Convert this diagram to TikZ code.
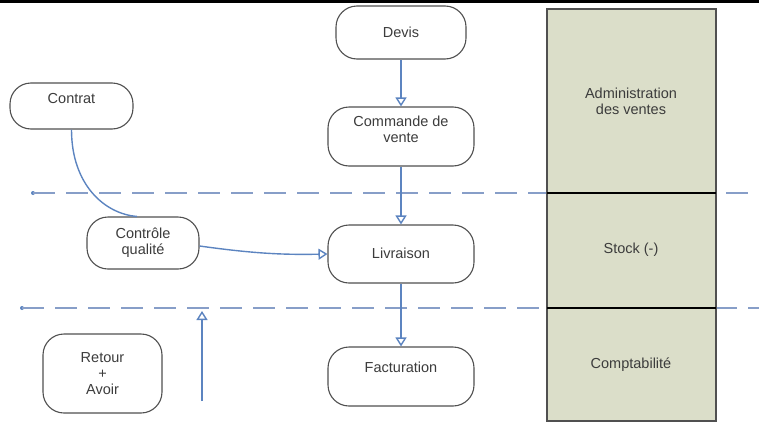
\documentclass[tikz,border=0pt]{standalone}
\usepackage{fontspec}
\setmainfont{Liberation Sans}
\usetikzlibrary{arrows.meta}
\definecolor{flow}{RGB}{92,132,192}
\definecolor{dashc}{RGB}{135,158,200}
\definecolor{boxline}{RGB}{80,80,80}
\definecolor{txt}{RGB}{60,60,60}
\definecolor{lane}{RGB}{219,222,201}
\begin{document}
\begin{tikzpicture}[x=1pt,y=-1pt,
  proc/.style={draw=boxline, line width=1.1pt, rounded corners=21pt, fill=white, inner sep=0pt},
  lbl/.style={text=txt, font=\fontsize{14.5}{16}\selectfont, align=center, inner sep=0pt},
  flowline/.style={draw=flow, line width=1.4pt},
  tip/.style={-{Triangle[open,length=9pt,width=11pt,fill=white]}},
  sep/.style={draw=dashc, line width=1.4pt, dash pattern=on 22pt off 11pt},
  lanebox/.style={draw=boxline, line width=1.1pt, fill=lane}
]
\useasboundingbox (0,0) rectangle (759,423);
\draw[line width=3pt] (0,1.5) -- (759,1.5);

% separators
\fill[flow] (33,193) circle (2pt);
\draw[sep] (33,193) -- (759,193);
\fill[flow] (22,308) circle (2pt);
\draw[sep] (22,308) -- (759,308);

% lane column
\draw[lanebox] (547,9) rectangle (716,421);
\draw[line width=1.1pt] (547,193) -- (716,193);
\draw[line width=1.1pt] (547,308) -- (716,308);
\node[lbl] (adm) at (631,101.5) {Administration\\des ventes};
\node[lbl] (stock) at (631,250) {Stock (-)};
\node[lbl] (compta) at (631,365) {Comptabilité};

% process boxes
\node[proc, minimum width=130pt, minimum height=53pt,
  label={[lbl]center:Devis}] (devis) at (401,32.5) {};
\node[proc, minimum width=146pt, minimum height=59pt,
  label={[lbl,yshift=7pt]center:{Commande de\\vente}}] (cmd) at (401,136.5) {};
\node[proc, minimum width=146pt, minimum height=58pt,
  label={[lbl,yshift=1pt]center:Livraison}] (livr) at (401,254) {};
\node[proc, minimum width=146pt, minimum height=59pt,
  label={[lbl,yshift=9.5pt]center:Facturation}] (fact) at (401,376.5) {};
\node[proc, minimum width=123pt, minimum height=46pt,
  label={[lbl,yshift=7pt]center:Contrat}] (contrat) at (71.5,106) {};
\node[proc, minimum width=112pt, minimum height=52pt,
  label={[lbl]center:{Contrôle\\qualité}}] (ctrl) at (143,243) {};
\node[proc, minimum width=119pt, minimum height=79pt,
  label={[lbl]center:{Retour\\+\\Avoir}}] (retour) at (102.5,373.5) {};

% connectors
\draw[flowline,tip] (devis) -- (cmd);
\draw[flowline,tip] (cmd) -- (livr);
\draw[flowline,tip] (livr) -- (fact);
\draw[flowline] (contrat.south) .. controls (71.5,185) and (105,214) .. ([xshift=-6pt]ctrl.north);
\draw[flowline,tip] ([yshift=-3pt]ctrl.east) .. controls (250,253) and (280,255) .. (livr.west);
\coordinate (upS) at (202,401);
\coordinate (upE) at (202,311);
\draw[flowline,tip] (upS) -- (upE);
\end{tikzpicture}
\end{document}
